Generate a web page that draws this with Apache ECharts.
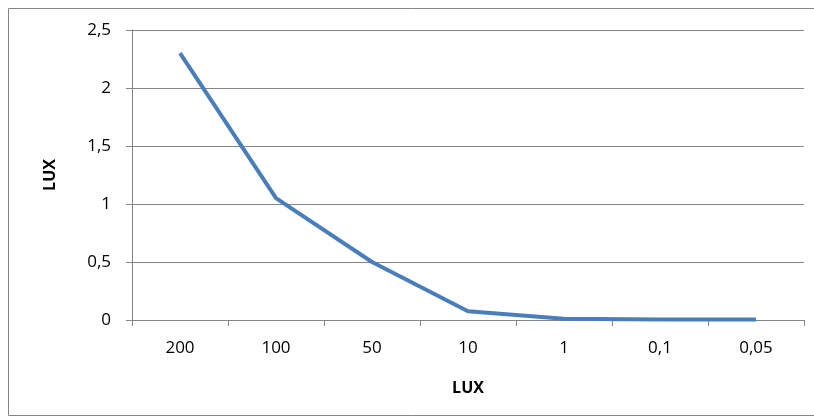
<!DOCTYPE html>
<html>
<head>
<meta charset="utf-8">
<script src="https://cdn.jsdelivr.net/npm/echarts@6/dist/echarts.min.js"></script>
<style>
  html, body { margin: 0; padding: 0; background: #fff; }
  #chart { width: 814px; height: 417px; }
</style>
</head>
<body>
<div id="chart"></div>
<script>
// categories (left to right)
var categories = ['200', '100', '50', '10', '1', '0,1', '0,05'];
// values
var luxValues = [2.3, 1.05, 0.5, 0.075, 0.01, 0.005, 0.004];

var font = '"Open Sans", Lato, sans-serif';

var chart = echarts.init(document.getElementById('chart'));

var option = {
    animation: false,
    grid: {
        left: 132,
        right: 10,
        top: 30,
        bottom: 97
    },
    graphic: [
        {
            type: 'rect',
            shape: { x: 8.5, y: 8.5, width: 820, height: 407 },
            style: { fill: null, stroke: '#868686', lineWidth: 1 },
            silent: true
        }
    ],
    xAxis: {
        type: 'category',
        data: categories,
        boundaryGap: true,
        name: 'LUX',
        nameLocation: 'middle',
        nameGap: 60,
        nameTextStyle: { fontFamily: font, fontSize: 16, fontWeight: 'bold', color: '#000' },
        axisLine: { lineStyle: { color: '#868686', width: 1 } },
        axisTick: { show: true, length: 6, alignWithLabel: false, lineStyle: { color: '#868686' } },
        axisLabel: { fontFamily: font, fontSize: 17, color: '#000', margin: 20 }
    },
    yAxis: {
        type: 'value',
        min: 0,
        max: 2.5,
        interval: 0.5,
        name: 'LUX',
        nameLocation: 'middle',
        nameGap: 74,
        nameRotate: 90,
        nameTextStyle: { fontFamily: font, fontSize: 16, fontWeight: 'bold', color: '#000' },
        axisLine: { show: true, lineStyle: { color: '#868686', width: 1 } },
        axisTick: { show: true, length: 6, lineStyle: { color: '#868686' } },
        axisLabel: {
            fontFamily: font,
            fontSize: 17,
            color: '#000',
            margin: 21,
            formatter: function (v) { return String(v).replace('.', ','); }
        },
        splitLine: { show: true, lineStyle: { color: '#868686', width: 1 } }
    },
    series: [
        {
            name: 'LUX',
            type: 'line',
            data: luxValues,
            symbol: 'none',
            lineStyle: { color: '#4A7EBB', width: 4 },
            itemStyle: { color: '#4A7EBB' }
        }
    ]
};

chart.setOption(option);
</script>
</body>
</html>
